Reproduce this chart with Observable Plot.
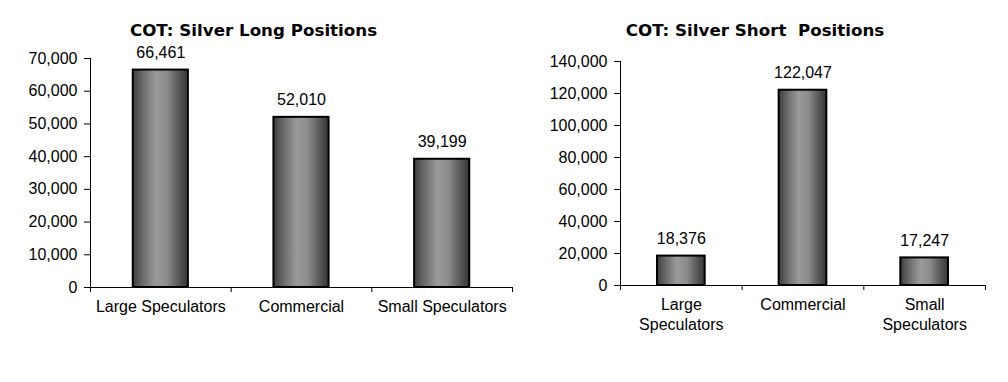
<!DOCTYPE html>
<html><head><meta charset="utf-8">
<script src="https://cdn.jsdelivr.net/npm/d3@7"></script>
<script src="https://cdn.jsdelivr.net/npm/@observablehq/plot@0.6"></script>
<style>
body{margin:0;background:#fff;}
#wrap{display:flex;width:1008px;height:382px;overflow:hidden;}
svg{display:block}
text{white-space:pre}
</style></head><body><div id="wrap"></div>
<script>
const longCategories = ["Large Speculators", "Commercial", "Small Speculators"];
const shortCategories = ["Large\nSpeculators", "Commercial", "Small\nSpeculators"];
const longValues = [66461, 52010, 39199];
const shortValues = [18376, 122047, 17247];
const longTicks = [0, 10000, 20000, 30000, 40000, 50000, 60000, 70000];
const shortTicks = [0, 20000, 40000, 60000, 80000, 100000, 120000, 140000];
const longTitle = "COT: Silver Long Positions";
const shortTitle = "COT: Silver Short  Positions";

const fmt = d3.format(",");

function makeChart({id, labels, values, ticks, title, width, marginLeft, marginRight, marginTop, marginBottom}) {
  const rows = labels.map((c, i) => ({c, i, v: values[i]}));
  const band = (width - marginLeft - marginRight) / labels.length;
  const inset = band * 0.304;
  const defs = () => {
    const d = d3.create("svg:defs");
    const g = d.append("linearGradient").attr("id", id)
      .attr("x1", 0).attr("x2", 1).attr("y1", 0).attr("y2", 0);
    [[0, "#3e3e3e"], [0.2, "#6e6e6e"], [0.42, "#9a9a9a"], [0.62, "#8c8c8c"], [0.85, "#555"], [1, "#363636"]]
      .forEach(([o, c]) => g.append("stop").attr("offset", o).attr("stop-color", c));
    return d.node();
  };
  return Plot.plot({
    width, height: 382, marginLeft, marginRight, marginTop, marginBottom,
    style: {fontFamily: "'Liberation Sans', Arial, sans-serif", fontSize: "16px", color: "#000", background: "#fff"},
    x: {domain: [0, labels.length]},
    y: {domain: [ticks[0], ticks[ticks.length - 1]]},
    marks: [
      defs,
      Plot.rectY(rows, {x1: d => d.i, x2: d => d.i + 1, y: "v", insetLeft: inset, insetRight: inset,
        fill: `url(#${id})`, stroke: "#000", strokeWidth: 2}),
      Plot.ruleY([0], {stroke: "#000"}),
      Plot.ruleX([0], {stroke: "#000"}),
      Plot.axisY({ticks, tickFormat: fmt, tickSize: 6, tickPadding: 7, fontSize: 16, stroke: "#000", fill: "#000", label: null}),
      Plot.axisX({ticks: d3.range(labels.length + 1), tickFormat: () => "", tickSize: 5, stroke: "#000", label: null}),
      Plot.text(rows, {x: d => d.i + 0.5, y: "v", text: d => fmt(d.v), dy: -17, fontSize: 16, fill: "#000"}),
      Plot.text(rows, {x: d => d.i + 0.5, y: 0, text: "c", lineAnchor: "top", dy: 11, lineHeight: 1.22, fontSize: 16, fill: "#000"}),
      Plot.text([title], {frameAnchor: "top", lineAnchor: "middle", dy: 30 - marginTop, dx: -48, fontWeight: "bold",
        fontFamily: "'DejaVu Sans', Verdana, sans-serif", fontSize: 16.7, fill: "#000"})
    ]
  });
}

const wrap = document.getElementById("wrap");
wrap.appendChild(makeChart({id: "gLong", labels: longCategories, values: longValues, ticks: longTicks, title: longTitle,
  width: 520, marginLeft: 90, marginRight: 8, marginTop: 58, marginBottom: 95}));
wrap.appendChild(makeChart({id: "gShort", labels: shortCategories, values: shortValues, ticks: shortTicks, title: shortTitle,
  width: 488, marginLeft: 100, marginRight: 23, marginTop: 61, marginBottom: 97}));
</script></body></html>
